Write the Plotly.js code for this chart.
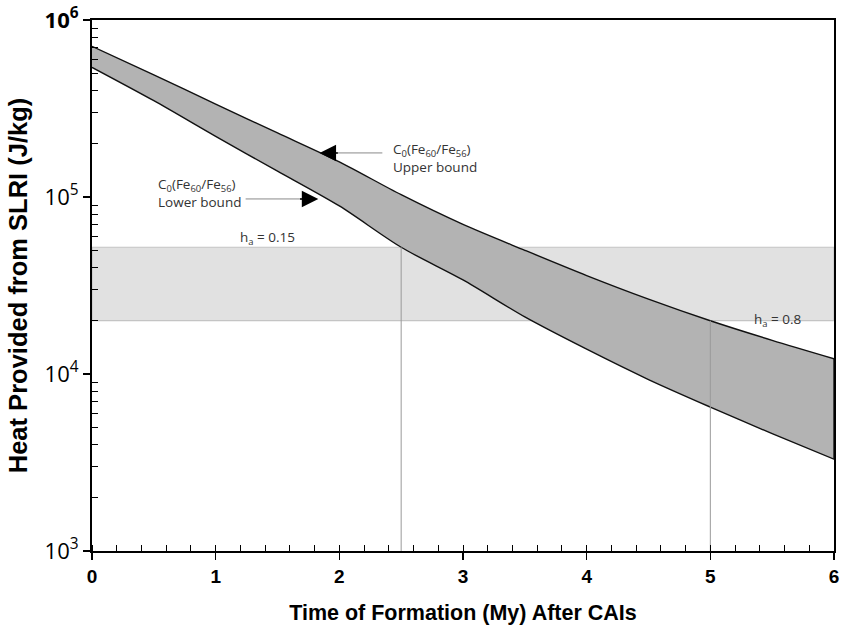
<!DOCTYPE html>
<html>
<head>
<meta charset="utf-8">
<script src="https://cdn.plot.ly/plotly-3.0.1.min.js"></script>
<style>
  html, body { margin: 0; padding: 0; background: #fff; }
  #chart { width: 843px; height: 631px; }
</style>
</head>
<body>
<div id="chart"></div>
<script>
// Time after CAI formation (My)
const time = [0, 0.5, 1, 1.5, 2, 2.5, 3, 3.5, 4, 4.5, 5, 5.5, 6];
// Heat from short-lived radionuclides (J/kg), upper and lower bounds of C0(Fe60/Fe56)
const upperBound = [7.1e5, 4.9e5, 3.35e5, 2.3e5, 1.58e5, 1.03e5, 7.0e4, 5.0e4, 3.6e4, 2.65e4, 2.0e4, 1.55e4, 1.22e4];
const lowerBound = [5.4e5, 3.5e5, 2.2e5, 1.4e5, 8.9e4, 5.2e4, 3.4e4, 2.1e4, 1.38e4, 9.3e3, 6.5e3, 4.6e3, 3.3e3];

// Heat required band for h_a between 0.8 and 0.15
const bandLow = 2.0e4;
const bandHigh = 5.2e4;
const bandX = [0, 6];

// Formation-time markers and the band edge each one reaches
const markerTimes = [2.5, 5];
const markerTops = [bandHigh, bandLow];
const yFloor = 1e3;

// Axis ticks
const yTickVals = [1e3, 1e4, 1e5, 1e6];
const yTickText = ['10<sup>3</sup>', '10<sup>4</sup>', '10<sup>5</sup>', '<b>10<sup>6</sup></b>'];
const xTickVals = [0, 1, 2, 3, 4, 5, 6];

const yMinor = [];
for (let d = 3; d < 6; d++) {
  for (let m = 2; m <= 9; m++) yMinor.push(m * Math.pow(10, d));
}

const traces = [];

// light band
traces.push({
  x: [bandX[0], bandX[1], bandX[1], bandX[0], bandX[0]],
  y: [bandLow, bandLow, bandHigh, bandHigh, bandLow],
  mode: 'lines', fill: 'toself', fillcolor: '#e1e1e1',
  line: { color: '#c4c4c4', width: 1.2 },
  hoverinfo: 'skip', showlegend: false
});

// lower bound curve, then upper bound filled down to it
traces.push({
  x: time, y: lowerBound, mode: 'lines',
  line: { color: '#111', width: 1.4, shape: 'spline', smoothing: 0.8 },
  hoverinfo: 'skip', showlegend: false
});
traces.push({
  x: time, y: upperBound, mode: 'lines', fill: 'tonexty', fillcolor: '#b3b3b3',
  line: { color: '#111', width: 1.4, shape: 'spline', smoothing: 0.8 },
  hoverinfo: 'skip', showlegend: false
});
// closing edge at the last time
traces.push({
  x: [time[time.length - 1], time[time.length - 1]],
  y: [lowerBound[lowerBound.length - 1], upperBound[upperBound.length - 1]],
  mode: 'lines', line: { color: '#111', width: 1.4 },
  hoverinfo: 'skip', showlegend: false
});

// vertical markers
markerTimes.forEach((t, i) => {
  traces.push({
    x: [t, t], y: [yFloor, markerTops[i]],
    mode: 'lines', line: { color: '#9a9a9a', width: 1 },
    hoverinfo: 'skip', showlegend: false
  });
});

const txtFont = { family: 'Open Sans, sans-serif', size: 13.5, color: '#333' };

const annotations = [
  // Upper bound label and arrow
  { x: 2.42, y: 5.218, xref: 'x', yref: 'y', xanchor: 'left', yanchor: 'middle', align: 'left',
    text: 'C<sub>0</sub>(Fe<sub>60</sub>/Fe<sub>56</sub>)<br>Upper bound', showarrow: false, font: txtFont },
  { x: 1.9, y: 5.249, ax: 2.36, ay: 5.249, axref: 'x', ayref: 'y', xref: 'x', yref: 'y',
    text: '', showarrow: true, arrowhead: 0, arrowwidth: 1, arrowcolor: '#8a8a8a' },
  { x: 1.84, y: 5.249, ax: 2.0, ay: 5.249, axref: 'x', ayref: 'y', xref: 'x', yref: 'y',
    text: '', showarrow: true, arrowhead: 2, arrowsize: 2.2, arrowwidth: 1.5, arrowcolor: '#000' },
  // Lower bound label and arrow
  { x: 1.72, y: 4.989, ax: 1.23, ay: 4.989, axref: 'x', ayref: 'y', xref: 'x', yref: 'y',
    text: '', showarrow: true, arrowhead: 0, arrowwidth: 1, arrowcolor: '#8a8a8a' },
  { x: 1.83, y: 4.989, ax: 1.67, ay: 4.989, axref: 'x', ayref: 'y', xref: 'x', yref: 'y',
    text: '', showarrow: true, arrowhead: 2, arrowsize: 2.2, arrowwidth: 1.5, arrowcolor: '#000' },
  { x: 0.52, y: 5.023, xref: 'x', yref: 'y', xanchor: 'left', yanchor: 'middle', align: 'left',
    text: 'C<sub>0</sub>(Fe<sub>60</sub>/Fe<sub>56</sub>)<br>Lower bound', showarrow: false, font: txtFont },
  // band labels
  { x: 1.42, y: 4.768, xref: 'x', yref: 'y', xanchor: 'center', yanchor: 'middle',
    text: 'h<sub>a</sub> = 0.15', showarrow: false, font: txtFont },
  { x: 5.545, y: 4.305, xref: 'x', yref: 'y', xanchor: 'center', yanchor: 'middle',
    text: 'h<sub>a</sub> = 0.8', showarrow: false, font: txtFont }
];

const layout = {
  width: 843, height: 631,
  margin: { l: 92, r: 9, t: 20, b: 80 },
  paper_bgcolor: '#fff', plot_bgcolor: '#fff',
  showlegend: false,
  xaxis: {
    range: [0, 6], tickmode: 'array', tickvals: xTickVals,
    showgrid: false, zeroline: false,
    showline: true, mirror: true, linecolor: '#000', linewidth: 2,
    ticks: 'outside', ticklen: 7, tickwidth: 1.5, tickcolor: '#000',
    minor: { dtick: 0.2, ticks: 'inside', ticklen: 6, tickwidth: 1, tickcolor: '#000', showgrid: false },
    tickfont: { family: 'Liberation Sans, Arial, sans-serif', size: 19, color: '#000', weight: 'bold' },
    title: { text: '<b>Time of Formation (My) After CAIs</b>', standoff: 19,
      font: { family: 'Liberation Sans, Arial, sans-serif', size: 21.5, color: '#000' } },
    automargin: false
  },
  yaxis: {
    type: 'log', range: [3, 6], tickmode: 'array', tickvals: yTickVals, ticktext: yTickText,
    showgrid: false, zeroline: false,
    showline: true, mirror: true, linecolor: '#000', linewidth: 2,
    ticks: 'outside', ticklen: 7, tickwidth: 1.5, tickcolor: '#000',
    minor: { tickmode: 'array', tickvals: yMinor, ticks: 'inside', ticklen: 6, tickwidth: 1, tickcolor: '#000', showgrid: false },
    tickfont: { family: 'Open Sans, sans-serif', size: 22, color: '#000' },
    title: { text: '<b>Heat Provided from SLRI (J/kg)</b>', standoff: 10,
      font: { family: 'Liberation Sans, Arial, sans-serif', size: 25.5, color: '#000' } },
    automargin: false
  },
  annotations: annotations
};

Plotly.newPlot('chart', traces, layout, { staticPlot: true, displayModeBar: false });
</script>
</body>
</html>
